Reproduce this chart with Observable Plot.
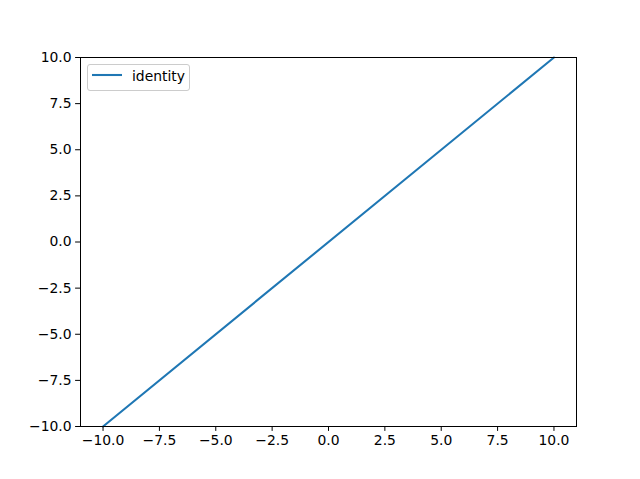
<!DOCTYPE html>
<html>
<head>
<meta charset="utf-8">
<script src="https://cdn.jsdelivr.net/npm/d3@7"></script>
<script src="https://cdn.jsdelivr.net/npm/@observablehq/plot@0.6"></script>
<style>
  html, body { margin: 0; padding: 0; background: #fff; }
  #wrap { position: relative; width: 640px; height: 479px; font-family: "DejaVu Sans", sans-serif; }
  #legend {
    position: absolute; left: 87px; top: 64px; width: 101px; height: 25px;
    border: 1px solid #cccccc; border-radius: 3px; background: rgba(255,255,255,0.8);
    font-size: 13.9px; color: #000;
  }
  #legend svg { position: absolute; left: 4px; top: 4px; }
  #legend span { position: absolute; left: 44px; top: 3px; }
</style>
</head>
<body>
<div id="wrap"></div>
<script>
const xValues = [-10, 10];
const yValues = [-10, 10];
const seriesName = "identity";
const xTicks = [-10, -7.5, -5, -2.5, 0, 2.5, 5, 7.5, 10];
const yTicks = [-10, -7.5, -5, -2.5, 0, 2.5, 5, 7.5, 10];

const data = xValues.map((x, i) => ({x, y: yValues[i]}));
const fmt = d3.format(".1f");

const chart = Plot.plot({
  width: 640,
  height: 479,
  marginLeft: 80,
  marginRight: 64,
  marginTop: 57,
  marginBottom: 53,
  style: {fontFamily: "DejaVu Sans, sans-serif", fontSize: "13.9px", color: "#000", background: "#fff"},
  x: {domain: [-11, 11], ticks: xTicks, tickFormat: fmt, label: null},
  y: {domain: [-10, 10], ticks: yTicks, tickFormat: fmt, label: null},
  marks: [
    Plot.line(data, {x: "x", y: "y", stroke: "#1f77b4", strokeWidth: 2.08}),
    Plot.frame({stroke: "#000", strokeWidth: 1}),
    Plot.axisX({ticks: xTicks, tickFormat: fmt, tickSize: 4.9, tickPadding: 4, label: null, stroke: "#000"}),
    Plot.axisY({ticks: yTicks, tickFormat: fmt, tickSize: 4.9, tickPadding: 4, label: null, stroke: "#000"})
  ]
});
const wrap = document.getElementById("wrap");
wrap.appendChild(chart);

const legend = document.createElement("div");
legend.id = "legend";
legend.innerHTML = `<svg width="32" height="12"><line x1="0" y1="6" x2="30" y2="6" stroke="#1f77b4" stroke-width="2.08"/></svg><span></span>`;
legend.querySelector("span").textContent = seriesName;
wrap.appendChild(legend);
</script>
</body>
</html>
